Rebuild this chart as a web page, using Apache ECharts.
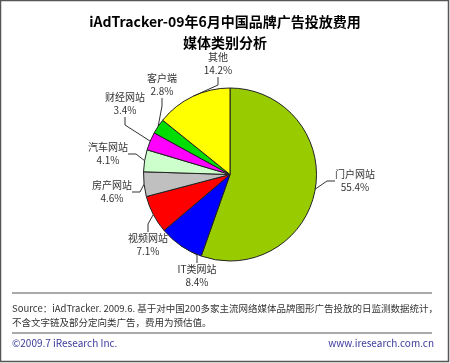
<!DOCTYPE html>
<html><head><meta charset="utf-8">
<script src="https://cdn.jsdelivr.net/npm/echarts@6/dist/echarts.min.js"></script>
<style>html,body{margin:0;padding:0;background:#fff}#c{width:450px;height:363px}</style>
</head><body><div id="c"></div>
<script>
const categories = ['门户网站','IT类网站','视频网站','房产网站','汽车网站','财经网站','客户端','其他'];
const values = [55.4, 8.4, 7.1, 4.6, 4.1, 3.4, 2.8, 14.2];
const colors = ['#99CC00','#0000FF','#FF0000','#C0C0C0','#CCFFCC','#FF00FF','#00DD00','#FFFF00'];
const labelPos = [[355,181],[197,276],[148,245],[112,192],[108,154],[125,104],[162,85],[218,64]];

const chart = echarts.init(document.getElementById('c'));
const font = '"Noto Sans CJK SC", "Noto Sans", sans-serif';
chart.setOption({
  animation: false,
  title: {
    text: 'iAdTracker-09年6月中国品牌广告投放费用\n媒体类别分析',
    left: 'center', top: 6,
    textStyle: {fontSize: 14, fontWeight: 'bold', color: '#000', lineHeight: 21, fontFamily: font}
  },
  graphic: [
    {type:'rect', shape:{x:0.5,y:0.5,width:448,height:361}, style:{fill:'none', stroke:'#555', lineWidth:1.5}},
    {type:'line', shape:{x1:12,y1:293,x2:432,y2:293}, style:{stroke:'#555', lineWidth:1}},
    {type:'line', shape:{x1:12,y1:333,x2:432,y2:333}, style:{stroke:'#555', lineWidth:1}},
    {type:'text', x:12, y:301, style:{text:'Source：iAdTracker. 2009.6. 基于对中国200多家主流网络媒体品牌图形广告投放的日监测数据统计，\n不含文字链及部分定向类广告，费用为预估值。', fontSize:9.5, lineHeight:14, fill:'#333', fontFamily:font}},
    {type:'text', x:12, y:338, style:{text:'©2009.7 iResearch Inc.', fontSize:10, fill:'#3a3a9a', fontFamily:font}},
    {type:'text', x:434, y:338, style:{text:'www.iresearch.com.cn', fontSize:10, fill:'#3a3a9a', align:'right', fontFamily:font}}
  ],
  series: [{
    type: 'pie',
    center: [230, 174.5],
    radius: [0, 86.5],
    startAngle: 90,
    clockwise: true,
    data: categories.map((n,i)=>({name:n, value:values[i], itemStyle:{color:colors[i]}})),
    itemStyle: {borderColor:'#222', borderWidth:1},
    label: {
      formatter: p => p.name + '\n' + p.value.toFixed(1) + '%',
      fontSize: 10, lineHeight: 13, color: '#333', fontFamily: font, align:'center'
    },
    labelLine: {show:true, length:10, length2:8, lineStyle:{color:'#333', width:1}},
    labelLayout: p => ({x: labelPos[p.dataIndex][0], y: labelPos[p.dataIndex][1], align:'center', verticalAlign:'middle'}),
    emphasis: {disabled:true}
  }]
});
</script></body></html>
